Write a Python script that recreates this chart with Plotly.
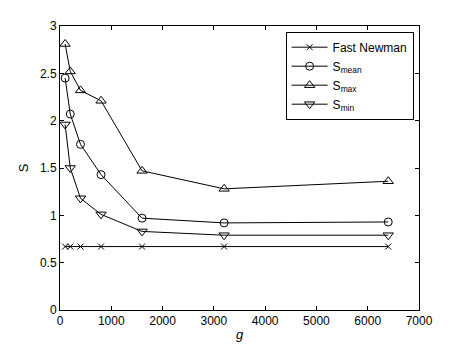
import plotly.graph_objects as go

g = [100, 200, 400, 800, 1600, 3200, 6400]
fast_newman = [0.67, 0.67, 0.67, 0.67, 0.67, 0.67, 0.67]
s_mean = [2.45, 2.07, 1.75, 1.43, 0.97, 0.92, 0.93]
s_max = [2.81, 2.52, 2.32, 2.21, 1.47, 1.28, 1.36]
s_min = [1.96, 1.50, 1.18, 1.01, 0.83, 0.79, 0.79]

series = [
    ("Fast Newman", fast_newman, "x-thin-open", 6),
    ("S<sub>mean</sub>", s_mean, "circle-open", 8),
    ("S<sub>max</sub>", s_max, "triangle-up-open", 9),
    ("S<sub>min</sub>", s_min, "triangle-down-open", 9),
]

fig = go.Figure()
for name, vals, sym, sz in series:
    fig.add_trace(go.Scatter(
        x=g, y=vals, mode="lines+markers", name=name,
        line=dict(color="black", width=1),
        marker=dict(symbol=sym, size=sz, color="black", line=dict(width=1, color="black")),
    ))

axis_common = dict(
    showgrid=False, zeroline=False, showline=True, linecolor="black", linewidth=1,
    mirror="ticks", ticks="inside", ticklen=4, tickcolor="black",
    tickfont=dict(size=12, color="black"), automargin=False,
)

fig.update_xaxes(range=[0, 7000], dtick=1000, title=dict(text="<i>g</i>", standoff=2,
                 font=dict(size=13, color="black")), **axis_common)
fig.update_yaxes(range=[0, 3], dtick=0.5, title=dict(text="S", standoff=8,
                 font=dict(size=13, color="black")), **axis_common)

# the page body has an 8px margin, so margins are shifted to compensate
fig.update_layout(
    width=463, height=349,
    margin=dict(l=52, r=52, t=18, b=47),
    paper_bgcolor="white", plot_bgcolor="white",
    font=dict(family="Liberation Sans, Arial, sans-serif", color="black"),
    legend=dict(x=0.985, y=0.98, xanchor="right", yanchor="top",
                bordercolor="black", borderwidth=1, bgcolor="white",
                font=dict(size=12), tracegroupgap=2, itemwidth=36),
)

fig.write_html("out.html")
